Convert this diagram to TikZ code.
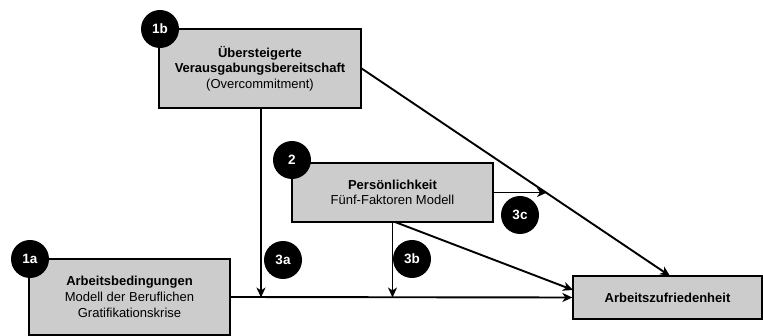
\documentclass[tikz,border=0pt]{standalone}
\usepackage{fontspec}
\setmainfont{Liberation Sans}
\usetikzlibrary{arrows.meta}
\begin{document}
\begin{tikzpicture}[x=1pt,y=-1pt,
  box/.style={draw=black,line width=1.3pt,fill=boxgray,align=center,inner sep=0pt,
    font=\fontsize{13}{15.7}\selectfont},
  badge/.style={circle,fill=black,text=white,minimum size=38pt,inner sep=0pt,
    font=\fontsize{13.5}{15}\selectfont\bfseries},
  conn/.style={line width=1.9pt,-{Stealth[length=10pt,width=9pt,inset=3pt]}}]
\definecolor{boxgray}{HTML}{CCCCCC}
\useasboundingbox (0,0) rectangle (763,336);
% boxes
\node[box,minimum width=202pt,minimum height=79pt] (b1b) at (260,68.5)
  {\textbf{Übersteigerte}\\\textbf{Verausgabungsbereitschaft}\\(Overcommitment)};
\node[box,minimum width=201pt,minimum height=59pt] (b2) at (392.5,192.5)
  {\textbf{Persönlichkeit}\\Fünf-Faktoren Modell};
\node[box,minimum width=201pt,minimum height=76pt] (b1a) at (129.5,297)
  {\textbf{Arbeitsbedingungen}\\Modell der Beruflichen\\Gratifikationskrise};
\node[box,minimum width=189pt,minimum height=43pt] (az) at (667.5,297.5)
  {\textbf{Arbeitszufriedenheit}};
% junction points
\coordinate (j1) at (261,297.5);
\coordinate (j2) at (392.5,297.5);
\coordinate (m3c) at (547,192.5);
\coordinate (azt) at (670,276);
\coordinate (b2s) at (395,222);
\coordinate (azw) at (573,290);
% connectors
\draw[conn] (b1a.east) -- (az.west);
\draw[conn] (b1b.south -| j1) -- (j1);
\draw[conn] (b2.south) -- (j2);
\draw[conn] (b1b.east) -- (azt);
\draw[conn] (b2.east) -- (m3c);
\draw[conn] (b2s) -- (azw);
% badges
\node[badge] (c1b) at (160,29) {1b};
\node[badge] (c2) at (292,160) {2};
\node[badge] (c1a) at (30,259) {1a};
\node[badge] (c3a) at (283,260) {3a};
\node[badge] (c3b) at (412,259) {3b};
\node[badge] (c3c) at (520,215) {3c};
\end{tikzpicture}
\end{document}
